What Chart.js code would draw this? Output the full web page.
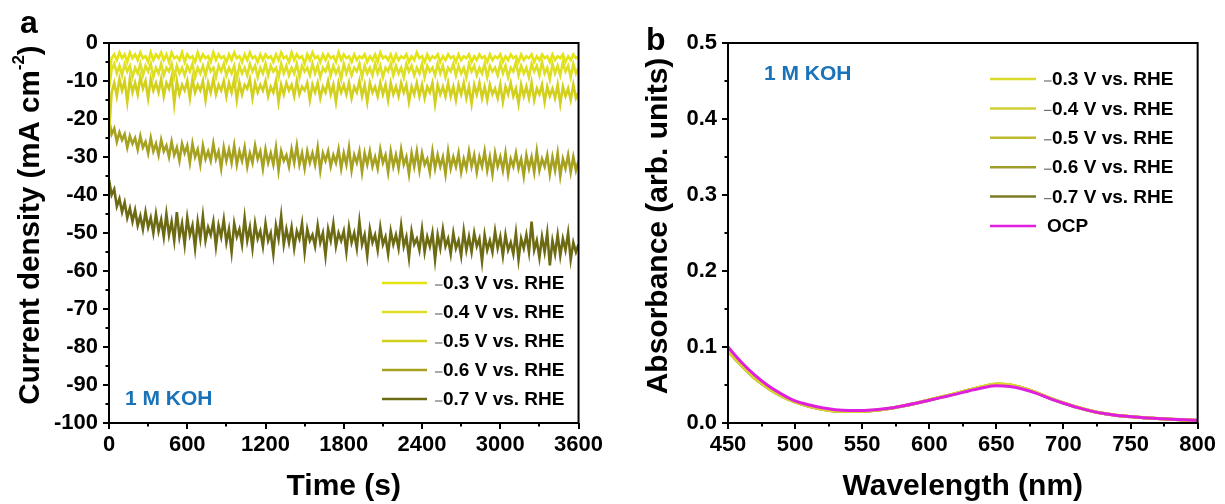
<!DOCTYPE html>
<html>
<head>
<meta charset="utf-8">
<title>Chronoamperometry and UV-vis absorbance in 1 M KOH</title>
<script src="https://cdn.jsdelivr.net/npm/chart.js@4.4.1/dist/chart.umd.min.js"></script>
<style>
  html, body { margin: 0; padding: 0; background: #fff; }
  #wrap { position: relative; width: 1225px; height: 504px; overflow: hidden; }
  #ca { position: absolute; left: 0; top: 0; }
  #cb { position: absolute; left: 612px; top: 0; }
</style>
</head>
<body>
<div id="wrap">
  <canvas id="ca" width="612" height="504"></canvas>
  <canvas id="cb" width="613" height="504"></canvas>
</div>
<script>
// ---------- series labels and colours ----------
const potentialLabels = ['–0.3 V vs. RHE', '–0.4 V vs. RHE', '–0.5 V vs. RHE', '–0.6 V vs. RHE', '–0.7 V vs. RHE'];
const ocpLabel = 'OCP';
const currentColors = ['#e4e414', '#dede22', '#d2d01c', '#a6a220', '#6d6a14'];
const spectrumColors = ['#dada2a', '#cfcf35', '#bcbc2e', '#9d9d2a', '#7b7b26'];
const ocpColor = '#e01ee0';

// ---------- panel a: current density (mA cm-2), one sample every 20 s from 0 to 3600 s ----------
const sampleStep = 20;
const cur03 = [
  -9, -4, -3, -4.5, -2.5, -4, -3, -5, -2.5, -4,
  -3, -4.5, -2.5, -4, -3.5, -5, -2.5, -4.5, -3, -4,
  -2.5, -4.5, -3, -5, -2.5, -4, -3.5, -4.5, -2.5, -5,
  -3, -4, -3.5, -5, -2.5, -4.5, -3, -4, -3.5, -5,
  -2.5, -4.5, -3, -4, -3.5, -5, -3, -4.5, -2.5, -4,
  -3.5, -5, -3, -4.5, -2.5, -4, -3.5, -5, -3, -4.5,
  -3, -4, -3.5, -5, -3, -4.5, -2.5, -4, -3.5, -5,
  -2.5, -4.5, -3, -4, -3.5, -5.5, -3, -4.5, -2.5, -4,
  -3.5, -5, -3, -4.5, -3, -4, -3.5, -5, -2.5, -4.5,
  -3, -4, -3.5, -5, -3, -4.5, -3.5, -4, -3, -5,
  -3.5, -4.5, -3, -5, -2.5, -4, -3.5, -4.5, -3, -5,
  -3, -4.5, -3.5, -4, -3, -5, -3.5, -4.5, -2.5, -4,
  -3.5, -5, -3, -4.5, -3.5, -4, -3, -5, -3.5, -4.5,
  -3, -4, -3.5, -5, -3, -4.5, -3.5, -4, -3, -5,
  -3.5, -4.5, -3, -4, -3.5, -5, -3, -4.5, -3.5, -4,
  -3, -5, -3.5, -4.5, -3, -4, -3.5, -5, -3, -4.5,
  -3.5, -4, -3, -5, -3.5, -4.5, -3, -4, -3.5, -5,
  -3, -4.5, -3.5, -4, -3, -5, -3.5, -4.5, -3, -4,
  -3.5
];
const cur04 = [
  -12, -7, -5.5, -8, -6, -8.5, -5.5, -7.5, -6, -9,
  -6.5, -8, -5.5, -8.5, -6, -7.5, -5.5, -9, -6.5, -8,
  -5.5, -8.5, -6.5, -7.5, -5.5, -9, -6, -8, -6.5, -8.5,
  -6, -7.5, -5.5, -9, -6.5, -8, -6, -8.5, -5.5, -7.5,
  -6.5, -9, -6, -7.5, -5.5, -8.5, -6.5, -8, -6, -9.5,
  -6, -8, -6.5, -8.5, -5.5, -7.5, -6, -9, -6.5, -8,
  -5.5, -8.5, -6, -7.5, -6.5, -9, -5.5, -8, -6, -8.5,
  -6.5, -8, -5.5, -9, -6, -7.5, -6.5, -8.5, -5.5, -8,
  -6, -9, -6.5, -7.5, -5.5, -8.5, -6, -8, -6.5, -9.5,
  -5.5, -8, -6, -8.5, -6.5, -7.5, -5.5, -9, -6, -8,
  -6.5, -8.5, -5.5, -8, -6, -9, -6.5, -7.5, -5.5, -8.5,
  -6, -8, -6.5, -9, -5.5, -7.5, -6, -8.5, -6.5, -8,
  -5.5, -9, -6, -7.5, -6.5, -8.5, -5.5, -8, -6, -9,
  -6.5, -7.5, -5.5, -8.5, -6, -8, -6.5, -9, -5.5, -7.5,
  -6, -8.5, -6.5, -8, -5.5, -9, -6, -7.5, -6.5, -8.5,
  -5.5, -8, -6, -9, -6.5, -7.5, -5, -8.5, -6, -8,
  -6.5, -9, -5.5, -7.5, -6, -8.5, -5, -8, -6.5, -9.5,
  -5.5, -8, -6, -8.5, -5, -7.5, -6, -9, -5.5, -8,
  -6.5
];
const cur05 = [
  -24, -13, -10.5, -14, -9.5, -12.5, -10, -15.5, -9.5, -13,
  -10.5, -13.5, -9, -12, -10, -14.5, -9.5, -12.5, -10.5, -13,
  -9.5, -14, -10.5, -12, -9, -16, -10, -13.5, -11, -12.5,
  -10, -14.5, -9.5, -13, -11, -12.5, -10, -15, -10.5, -13,
  -9.5, -13.5, -11, -12.5, -10, -14, -10.5, -13, -9.5, -15,
  -10.5, -13.5, -11, -12, -9.5, -14.5, -10.5, -13, -11, -12.5,
  -10, -14, -11.5, -13, -10, -15.5, -11, -13.5, -10.5, -12.5,
  -11, -14, -10, -13.5, -11.5, -12.5, -10.5, -15, -11, -13,
  -10.5, -14.5, -11.5, -13, -10, -13.5, -11, -15.5, -10.5, -13,
  -11, -13.5, -10.5, -14.5, -11.5, -13, -10, -14, -11, -15.5,
  -10.5, -13, -11.5, -14, -10.5, -13.5, -11, -15, -10.5, -13.5,
  -11.5, -14, -10.5, -13, -11, -15.5, -11.5, -13.5, -10.5, -14,
  -11, -14.5, -11.5, -13, -10.5, -16, -11, -13.5, -11.5, -14,
  -10.5, -14, -11.5, -15, -11, -13.5, -10.5, -14.5, -11.5, -16,
  -11, -13.5, -10.5, -14.5, -11.5, -15, -11, -13.5, -12, -14.5,
  -11, -15.5, -11.5, -13.5, -10.5, -14, -12, -16, -11, -14,
  -11.5, -14.5, -10.5, -15, -12, -13.5, -11, -15.5, -11.5, -14,
  -12, -14.5, -11, -16, -11.5, -14, -12, -15, -11, -14.5,
  -13
];
const cur06 = [
  -20, -24, -22.5, -26, -23.5, -25.5, -24, -27.5, -24.5, -26.5,
  -25, -28, -24.5, -27.5, -26, -29, -25, -28.5, -26.5, -29.5,
  -25.5, -28.5, -27, -30, -26, -29.5, -27.5, -31, -26.5, -29,
  -27, -31.5, -26.5, -30, -28, -32, -27, -30.5, -28.5, -31,
  -26.5, -30.5, -28.5, -33, -27.5, -31, -28, -31.5, -27, -32,
  -28.5, -31, -27.5, -32.5, -29, -31.5, -27, -30.5, -28.5, -33,
  -28, -31.5, -29, -32, -27.5, -33.5, -28.5, -31, -29.5, -32.5,
  -28, -31.5, -27, -32, -29, -33, -28.5, -31.5, -29, -32,
  -27.5, -33.5, -29, -31, -28.5, -32.5, -29.5, -31.5, -28, -33,
  -29, -32, -27.5, -33.5, -29.5, -31.5, -28.5, -34, -29, -32,
  -28.5, -32.5, -30, -33, -28, -31.5, -29.5, -34, -28.5, -32.5,
  -29.5, -33, -28, -32, -30, -34.5, -29, -32.5, -28.5, -33.5,
  -29, -32, -30.5, -34, -28.5, -33, -29.5, -32.5, -30, -34.5,
  -28.5, -33, -30, -32.5, -29, -34, -30.5, -33, -28.5, -32.5,
  -29.5, -34, -30, -32.5, -28.5, -33.5, -30, -34.5, -29, -32.5,
  -30, -33.5, -29, -34.5, -30.5, -32.5, -29, -33, -30.5, -35,
  -29.5, -33, -30, -34, -28.5, -33.5, -30.5, -32.5, -29.5, -34.5,
  -30, -33.5, -29, -35, -30.5, -33, -29.5, -34, -30, -33.5,
  -31
];
const cur07 = [
  -36, -40, -38.5, -43, -41, -44.5, -42, -46, -43.5, -47,
  -44, -48, -45.5, -49, -44.5, -48.5, -46, -50, -45, -49.5,
  -46.5, -51, -45, -50.5, -47, -52, -44.5, -51, -47.5, -53,
  -46, -50.5, -48, -54, -47, -51.5, -45.5, -52, -48.5, -50.5,
  -47, -53.5, -48, -51, -46.5, -52.5, -49, -55, -47.5, -51,
  -49, -53, -46, -52, -48.5, -54, -47.5, -51.5, -49.5, -53.5,
  -47.5, -52, -50, -55.5, -48, -51.5, -45.5, -53, -49, -52.5,
  -48.5, -54, -49.5, -51.5, -47.5, -55, -49, -52, -50.5, -53.5,
  -48, -52.5, -50, -56, -49, -52, -47.5, -53.5, -50, -52,
  -49.5, -55, -48.5, -52.5, -50, -54, -47, -53, -50.5, -56,
  -49, -52.5, -50.5, -54.5, -48.5, -53, -51, -55.5, -49.5, -53,
  -50.5, -54, -48, -53.5, -51, -56.5, -49.5, -53, -51.5, -54.5,
  -49, -55, -51, -53.5, -50, -57, -50.5, -54, -49, -53.5,
  -51.5, -55.5, -50, -54, -52, -56, -49.5, -54.5, -51, -55,
  -50, -53.5, -51.5, -57.5, -50.5, -54.5, -52, -55, -49.5, -54,
  -51, -56, -50.5, -54.5, -52.5, -55.5, -50, -57, -51.5, -54,
  -50.5, -55, -47, -54.5, -52, -56.5, -51, -55, -50, -58.5,
  -52, -55.5, -50.5, -56, -51.5, -54.5, -50, -57, -52.5, -55,
  -53
];
const currentSeries = [cur03, cur04, cur05, cur06, cur07];
const times = Array.from({ length: cur03.length }, (_, i) => i * sampleStep);

// ---------- panel b: absorbance spectra ----------
const wavelengths = [450, 460, 470, 480, 490, 500, 510, 520, 530, 540, 550, 560, 570, 580, 590, 600, 610, 620,
  630, 640, 650, 660, 670, 680, 690, 700, 710, 720, 730, 740, 750, 760, 770, 780, 790, 800];
const abs03 = [0.096, 0.077, 0.060, 0.047, 0.036, 0.028, 0.0225, 0.0185, 0.016, 0.0155, 0.0157, 0.017, 0.0192, 0.0224, 0.0262, 0.0305, 0.0348, 0.039,
  0.0437, 0.048, 0.0515, 0.0502, 0.046, 0.040, 0.0328, 0.0265, 0.021, 0.0163, 0.0127, 0.0101, 0.0085, 0.0071, 0.006, 0.005, 0.0042, 0.0034];
const abs04 = [0.095, 0.076, 0.059, 0.046, 0.0355, 0.0278, 0.0222, 0.0183, 0.0158, 0.0153, 0.0155, 0.0168, 0.019, 0.0222, 0.026, 0.0303, 0.0346, 0.0389,
  0.0436, 0.0479, 0.0512, 0.05, 0.0458, 0.0398, 0.0327, 0.0264, 0.0209, 0.0162, 0.0126, 0.01, 0.0084, 0.007, 0.0059, 0.005, 0.0041, 0.0033];
const abs05 = [0.094, 0.0755, 0.0585, 0.0455, 0.035, 0.0275, 0.022, 0.0181, 0.0157, 0.0152, 0.0154, 0.0167, 0.0189, 0.0221, 0.0258, 0.0301, 0.0344, 0.0387,
  0.0434, 0.0476, 0.0508, 0.0497, 0.0456, 0.0396, 0.0325, 0.0262, 0.0208, 0.0161, 0.0125, 0.0099, 0.0083, 0.0069, 0.0058, 0.0049, 0.004, 0.0032];
const abs06 = [0.095, 0.0758, 0.059, 0.046, 0.0354, 0.0277, 0.0221, 0.0182, 0.0158, 0.0153, 0.0155, 0.0168, 0.019, 0.0222, 0.0259, 0.0302, 0.0345, 0.0388,
  0.0435, 0.0478, 0.051, 0.0499, 0.0457, 0.0397, 0.0326, 0.0263, 0.0208, 0.0161, 0.0125, 0.0099, 0.0083, 0.0069, 0.0058, 0.0049, 0.004, 0.0032];
const abs07 = [0.096, 0.0765, 0.0595, 0.0465, 0.0358, 0.028, 0.0223, 0.0184, 0.0159, 0.0154, 0.0156, 0.0169, 0.0191, 0.0223, 0.026, 0.0303, 0.0346, 0.0389,
  0.0436, 0.0478, 0.051, 0.0499, 0.0458, 0.0398, 0.0327, 0.0264, 0.0209, 0.0162, 0.0126, 0.01, 0.0084, 0.007, 0.0059, 0.005, 0.0041, 0.0033];
const absOCP = [0.100, 0.080, 0.063, 0.049, 0.038, 0.029, 0.024, 0.020, 0.0175, 0.0165, 0.0165, 0.0175, 0.0195, 0.0225, 0.026, 0.030, 0.034, 0.038,
  0.0425, 0.0465, 0.049, 0.048, 0.0445, 0.039, 0.032, 0.026, 0.0205, 0.016, 0.0125, 0.010, 0.0085, 0.007, 0.006, 0.005, 0.0042, 0.0035];
const spectrumSeries = [abs03, abs04, abs05, abs06, abs07];

// ---------- axis tick settings ----------
const timeTicks = { min: 0, max: 3600, major: 600, minor: 300 };
const currentTicks = { min: -100, max: 0, major: 10, minor: 5 };
const waveTicks = { min: 450, max: 800, major: 50, minor: 25 };
const absTicks = { min: 0, max: 0.5, major: 0.1, minor: 0.05 };

const FONT = '"Liberation Sans", Arial, Helvetica, sans-serif';
const pairUp = (xs, ys) => xs.map((x, i) => ({ x, y: ys[i] }));

// Frame, outward major/minor ticks, rotated y title, panel letter, note and legend
const panelDecor = {
  id: 'panelDecor',
  afterDraw(chart, args, o) {
    const ctx = chart.ctx;
    const { left, right, top, bottom } = chart.chartArea;
    const xs = chart.scales.x, ys = chart.scales.y;
    ctx.save();

    // tick marks (outward, below x axis and left of y axis)
    ctx.strokeStyle = '#000';
    ctx.lineWidth = 2;
    ctx.beginPath();
    const nx = Math.round((o.xt.max - o.xt.min) / o.xt.minor);
    const xr = Math.round(o.xt.major / o.xt.minor);
    for (let i = 0; i <= nx; i++) {
      const px = Math.round(xs.getPixelForValue(o.xt.min + i * o.xt.minor));
      ctx.moveTo(px, bottom);
      ctx.lineTo(px, bottom + (i % xr === 0 ? 6 : 3.5));
    }
    const ny = Math.round((o.yt.max - o.yt.min) / o.yt.minor);
    const yr = Math.round(o.yt.major / o.yt.minor);
    for (let i = 0; i <= ny; i++) {
      const py = Math.round(ys.getPixelForValue(o.yt.min + i * o.yt.minor));
      ctx.moveTo(left, py);
      ctx.lineTo(left - (i % yr === 0 ? 6 : 3.5), py);
    }
    ctx.stroke();

    // frame
    ctx.lineWidth = 2;
    ctx.strokeRect(left, top, right - left, bottom - top);

    // rotated y-axis title (with optional superscript part)
    ctx.save();
    ctx.translate(o.yTitle.cx, o.yTitle.cy);
    ctx.rotate(-Math.PI / 2);
    ctx.fillStyle = '#000';
    ctx.textBaseline = 'alphabetic';
    ctx.textAlign = 'left';
    let total = 0;
    const widths = o.yTitle.parts.map(p => {
      ctx.font = `bold ${p.size}px ${FONT}`;
      const w = ctx.measureText(p.text).width;
      total += w;
      return w;
    });
    let tx = -total / 2;
    o.yTitle.parts.forEach((p, i) => {
      ctx.font = `bold ${p.size}px ${FONT}`;
      ctx.fillText(p.text, tx, o.yTitle.base - p.rise);
      tx += widths[i];
    });
    ctx.restore();

    // panel letter
    ctx.fillStyle = '#000';
    ctx.font = `bold 32px ${FONT}`;
    ctx.textAlign = 'left';
    ctx.textBaseline = 'alphabetic';
    ctx.fillText(o.letter.text, o.letter.x, o.letter.y);

    // electrolyte note
    ctx.fillStyle = '#1a73b8';
    ctx.font = `bold 21px ${FONT}`;
    ctx.fillText(o.note.text, o.note.x, o.note.y);

    // legend
    const L = o.legend;
    chart.data.datasets.forEach((ds, i) => {
      const y = L.y0 + i * L.gap;
      ctx.strokeStyle = ds.borderColor;
      ctx.lineWidth = 2.5;
      ctx.beginPath();
      ctx.moveTo(L.x0, y);
      ctx.lineTo(L.x1, y);
      ctx.stroke();
      let label = ds.label;
      if (label.startsWith('–')) {
        // thin grey dash sitting right against the number
        ctx.strokeStyle = '#707070';
        ctx.lineWidth = 1.2;
        ctx.beginPath();
        ctx.moveTo(L.dashX, y + 2);
        ctx.lineTo(L.textX - 0.5, y + 2);
        ctx.stroke();
        label = label.slice(1);
        ctx.fillStyle = '#000';
        ctx.font = `bold 19px ${FONT}`;
        ctx.textBaseline = 'middle';
        ctx.fillText(label, L.textX, y + 1);
      } else {
        ctx.fillStyle = '#000';
        ctx.font = `bold 19px ${FONT}`;
        ctx.textBaseline = 'middle';
        ctx.fillText(label, L.textX - 5, y + 1);
      }
    });
    ctx.restore();
  }
};

const tickFont = { family: FONT, size: 22, weight: 'bold' };
const titleFont = { family: FONT, size: 30, weight: 'bold', lineHeight: 1 };

function baseScales(xt, yt, xTitle, yLabel, yWidth, xHeight) {
  return {
    x: {
      type: 'linear', min: xt.min, max: xt.max,
      grid: { display: false, drawTicks: false },
      border: { display: false },
      ticks: { stepSize: xt.major, font: tickFont, color: '#000', padding: 9, maxRotation: 0, autoSkip: false,
               callback: v => String(v) },
      title: { display: true, text: xTitle, font: titleFont, color: '#000', padding: { top: 0, bottom: 2 } },
      afterFit: s => { s.height = xHeight; }
    },
    y: {
      type: 'linear', min: yt.min, max: yt.max,
      grid: { display: false, drawTicks: false },
      border: { display: false },
      ticks: { stepSize: yt.major, font: tickFont, color: '#000', padding: 11, autoSkip: false, callback: yLabel },
      afterFit: s => { s.width = yWidth; }
    }
  };
}

// ---------- panel a ----------
new Chart(document.getElementById('ca'), {
  type: 'line',
  data: {
    datasets: currentSeries.map((vals, i) => ({
      label: potentialLabels[i],
      data: pairUp(times, vals),
      borderColor: currentColors[i],
      borderWidth: 2.6,
      pointRadius: 0,
      tension: 0,
      fill: false,
      order: i
    }))
  },
  options: {
    responsive: false,
    animation: false,
    devicePixelRatio: 1,
    layout: { padding: { left: 0, top: 43, right: 29, bottom: 0 } },
    scales: baseScales(timeTicks, currentTicks, 'Time (s)', v => String(v), 109, 81),
    plugins: {
      legend: { display: false },
      tooltip: { enabled: false },
      panelDecor: {
        xt: timeTicks, yt: currentTicks,
        yTitle: {
          cx: 28, cy: 225, base: 11,
          parts: [
            { text: 'Current density (mA cm', size: 29.5, rise: 0 },
            { text: '-2', size: 17, rise: 15 },
            { text: ')', size: 29.5, rise: 0 }
          ]
        },
        letter: { text: 'a', x: 20, y: 33 },
        note: { text: '1 M KOH', x: 125, y: 405 },
        legend: { x0: 382, x1: 427, dashX: 435, textX: 443, y0: 283, gap: 29 }
      }
    }
  },
  plugins: [panelDecor]
});

// ---------- panel b ----------
const spectrumSets = spectrumSeries.map((vals, i) => ({
  label: potentialLabels[i],
  data: pairUp(wavelengths, vals),
  borderColor: spectrumColors[i],
  borderWidth: 3,
  pointRadius: 0,
  cubicInterpolationMode: 'monotone',
  fill: false,
  order: i + 1
}));
spectrumSets.push({
  label: ocpLabel,
  data: pairUp(wavelengths, absOCP),
  borderColor: ocpColor,
  borderWidth: 3,
  pointRadius: 0,
  cubicInterpolationMode: 'monotone',
  fill: false,
  order: 0
});

new Chart(document.getElementById('cb'), {
  type: 'line',
  data: { datasets: spectrumSets },
  options: {
    responsive: false,
    animation: false,
    devicePixelRatio: 1,
    layout: { padding: { left: 0, top: 43, right: 26, bottom: 0 } },
    scales: baseScales(waveTicks, absTicks, 'Wavelength (nm)', v => Number(v).toFixed(1), 116, 81),
    plugins: {
      legend: { display: false },
      tooltip: { enabled: false },
      panelDecor: {
        xt: waveTicks, yt: absTicks,
        yTitle: {
          cx: 44, cy: 226, base: 11,
          parts: [{ text: 'Absorbance (arb. units)', size: 30, rise: 0 }]
        },
        letter: { text: 'b', x: 34, y: 50 },
        note: { text: '1 M KOH', x: 152, y: 80 },
        legend: { x0: 378, x1: 424, dashX: 432, textX: 440, y0: 79, gap: 29.4 }
      }
    }
  },
  plugins: [panelDecor]
});
</script>
</body>
</html>
